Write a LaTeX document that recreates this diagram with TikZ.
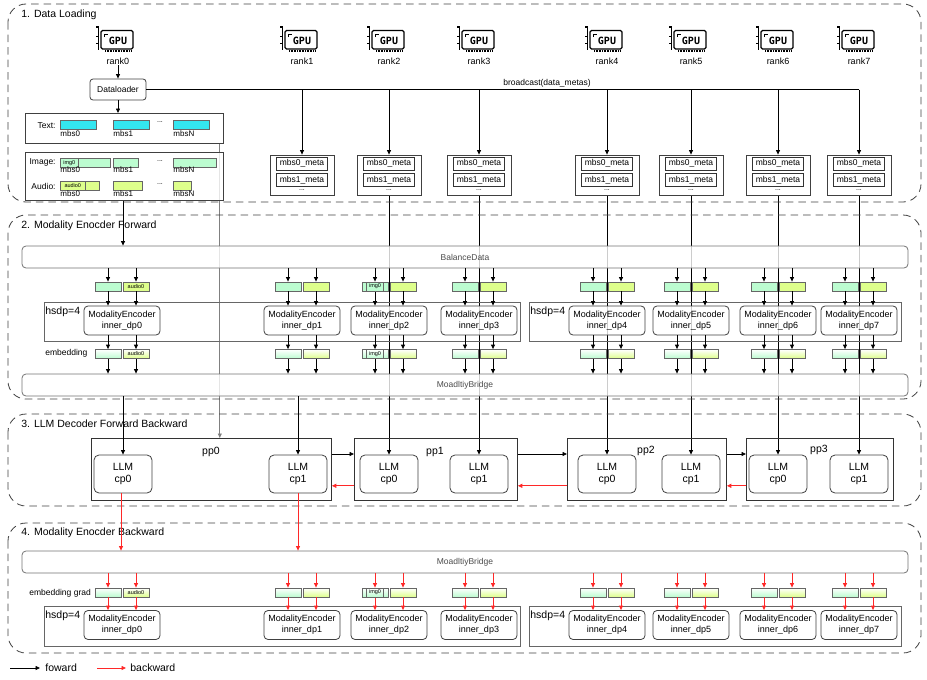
\documentclass[tikz,border=0pt]{standalone}
\usepackage{fontspec}
\setmainfont{Liberation Sans}
\newfontfamily\gpufont{DejaVu Sans Mono}
\usetikzlibrary{arrows.meta,calc,backgrounds}
\definecolor{cyanbar}{RGB}{51,230,240}
\definecolor{greenbar}{RGB}{188,252,208}
\definecolor{yellowbar}{RGB}{222,255,140}
\definecolor{bwdred}{RGB}{255,40,40}
\def\cols{0/122,1/302,2/389,3/479,4/607,5/691,6/778,7/859}

\begin{document}
\begin{tikzpicture}[x=1pt, y=-1pt, line width=0.8pt,
  fwd/.style={-{Triangle[length=4.5pt, width=4pt]}, line width=0.8pt},
  bwd/.style={-{Triangle[length=4.5pt, width=4pt]}, line width=0.8pt, color=bwdred},
  section/.style={draw=black!75, line width=0.8pt, dash pattern=on 7.5pt off 5pt, rounded corners=18pt},
  title/.style={anchor=west, inner sep=0pt, font=\fontsize{10.5}{12}\selectfont},
  hsdp/.style={anchor=west, inner sep=0pt, font=\fontsize{10.5}{12}\selectfont},
  lbl/.style={inner sep=0pt, font=\fontsize{8.5}{10}\selectfont},
  mbslbl/.style={inner sep=0pt, font=\fontsize{8}{9}\selectfont},
  dots/.style={inner sep=0pt, font=\fontsize{7}{8}\selectfont},
  rank/.style={inner sep=0pt, font=\fontsize{9}{10}\selectfont},
  proc/.style={draw=black!75, rounded corners=3pt, fill=white, inner sep=0pt, font=\fontsize{8.5}{10}\selectfont},
  panel/.style={draw=black!75, fill=white, fill opacity=0.8, text opacity=1, inner sep=0pt},
  meta/.style={draw=black!80, fill=white, inner sep=0pt, minimum width=51, minimum height=13, font=\fontsize{8.5}{10}\selectfont},
  bigbar/.style={draw=black!55, rounded corners=4pt, fill=white, fill opacity=0.8, text opacity=1, text=black!70, minimum width=886, minimum height=22, inner sep=0pt, font=\fontsize{8.5}{10}\selectfont},
  group/.style={draw=black!60, inner sep=0pt},
  enc/.style={draw=black!75, rounded corners=4pt, fill=white, fill opacity=0.8, text opacity=1, minimum width=76, minimum height=29, inner sep=0pt, align=center, font=\fontsize{9}{11}\selectfont},
  cbox/.style={draw=black!60, inner sep=0pt, minimum height=9},
  cyanbox/.style={cbox, fill=cyanbar},
  gbox/.style={cbox, fill=greenbar, minimum width=26},
  ybox/.style={cbox, fill=yellowbar, minimum width=26},
  gshade/.style={cbox, minimum width=26, top color=white, bottom color=greenbar},
  yshade/.style={cbox, minimum width=26, top color=white, bottom color=yellowbar},
  tag/.style={draw=black!60, line width=0.6pt, inner sep=0pt, minimum height=9, font=\fontsize{5.5}{6}\selectfont},
  tagtext/.style={inner sep=0pt, font=\fontsize{5.5}{6}\selectfont},
  pp/.style={draw=black!80, inner sep=0pt, minimum height=62},
  pplbl/.style={inner sep=0pt, font=\fontsize{10.5}{12}\selectfont},
  llm/.style={draw=black!75, rounded corners=5pt, fill=white, minimum width=58, minimum height=38, inner sep=0pt, align=center, font=\fontsize{10.5}{12.5}\selectfont},
  gpu/.pic={
    \draw[line width=1.1pt, rounded corners=1.5pt, fill=white] (-14,-9.5) rectangle (18,9);
    \draw[line width=1.4pt] (-19,-13) -- (-16.5,-13) -- (-16.5,10);
    \draw[line width=0.9pt] (-19,-4) -- (-16.5,-4) (-19,3) -- (-16.5,3);
    \draw[line width=0.9pt] (-10.5,-3) -- (-10.5,-6) -- (-7.5,-6);
    \node[inner sep=0pt, font=\gpufont\bfseries\fontsize{10}{10}\selectfont] (-lbl) at (3,0.5) {GPU};
    \draw[line width=2.4pt, dash pattern=on 1pt off 0.6pt] (-10,10.8) -- (17,10.8);
  }]
  \useasboundingbox (0,0) rectangle (927,680);

  % sections
  \draw[section] (8,4) rectangle (921,202);
  \draw[section] (8,215) rectangle (921,399);
  \draw[section] (8,414) rectangle (921,506);
  \draw[section] (8,523) rectangle (921,653);
  \node[title] (s1) at (21,15) {1. Data Loading};
  \node[title] (s2) at (21,226) {2. Modality Enocder Forward};
  \node[title] (s3) at (21,424) {3. LLM Decoder Forward Backward};
  \node[title] (s4) at (21,533) {4. Modality Enocder Backward};

  % ranks
  \foreach \i/\x in {0/118,1/302,2/389,3/479,4/607,5/691,6/778,7/859} {
    \pic (g\i) at (\x-3,40) {gpu};
    \node[rank] (r\i) at (\x,61.5) {rank\i};
  }

  % data loading on rank0
  \node[proc, minimum width=56, minimum height=21] (dl) at (118,89.5) {Dataloader};
  \draw[fwd] (r0) -- (dl);
  \node[panel, minimum width=198, minimum height=30, anchor=north west] (txt) at (25,113) {};
  \node[panel, minimum width=198, minimum height=48, anchor=north west] (iab) at (25,152) {};
  \draw[fwd] (dl) -- (dl |- txt.north);

  \node[lbl, anchor=east] (tl) at (56,126) {Text:};
  \node[cyanbox, minimum width=36, anchor=north west] (t0) at (60,120) {};
  \node[cyanbox, minimum width=36, anchor=north west] (t1) at (113,120) {};
  \node[cyanbox, minimum width=36, anchor=north west] (tN) at (173,120) {};
  \node[mbslbl, anchor=west] (t0n) at (60,134) {mbs0};
  \node[mbslbl, anchor=west] (t1n) at (113,134) {mbs1};
  \node[mbslbl, anchor=west] (tNn) at (173,134) {mbsN};
  \node[dots] (td) at (160,122) {...};

  \node[lbl, anchor=east] (il) at (56,162) {Image:};
  \node[gbox, minimum width=50, anchor=north west] (im0) at (60,158) {};
  \node[tag, minimum width=18, anchor=west] (im0t) at (im0.west) {img0};
  \node[gbox, minimum width=25, anchor=north west] (im1) at (113,158) {};
  \node[gbox, minimum width=43, anchor=north west] (imN) at (173,158) {};
  \node[mbslbl, anchor=west] (im0n) at (60,170) {mbs0};
  \node[mbslbl, anchor=west] (im1n) at (113,170) {mbs1};
  \node[mbslbl, anchor=west] (imNn) at (173,170) {mbsN};
  \node[dots] (imd) at (160,161) {...};

  \node[lbl, anchor=east] (al) at (56,186) {Audio:};
  \node[ybox, minimum width=39, anchor=north west] (au0) at (60,181) {};
  \node[tag, minimum width=25, anchor=west] (au0t) at (au0.west) {audio0};
  \node[ybox, minimum width=29, anchor=north west] (au1) at (113,181) {};
  \node[ybox, minimum width=18, anchor=north west] (auN) at (173,181) {};
  \node[mbslbl, anchor=west] (au0n) at (60,194) {mbs0};
  \node[mbslbl, anchor=west] (au1n) at (113,194) {mbs1};
  \node[mbslbl, anchor=west] (auNn) at (173,194) {mbsN};
  \node[dots] (aud) at (160,184) {...};

  % metas on the other ranks
  \foreach \i/\x in {1/302,2/389,3/479,4/607,5/691,6/778,7/859} {
    \node[panel, minimum width=64, minimum height=40] (m\i) at (\x,175) {};
    \node[meta] (ma\i) at (\x,163.5) {mbs0\_meta};
    \node[meta] (mb\i) at (\x,180) {mbs1\_meta};
    \node[dots] (md\i) at (\x,190) {...};
  }
  \draw (dl.east) -- (dl.east -| m7);
  \node[lbl, anchor=south, inner sep=1pt] (bc) at (547,89) {broadcast(data\_metas)};
  \foreach \i in {1,...,7}
    \draw[fwd] (dl.east -| m\i) -- (m\i.north);

  % encoder forward
  \node[bigbar] (bal) at (465,257) {BalanceData};
  \node[group, minimum width=476, minimum height=39, anchor=north west] (grp1) at (44,302) {};
  \node[group, minimum width=372, minimum height=39, anchor=north west] (grp2) at (529,302) {};
  \node[hsdp] (h1) at (45,312) {hsdp=4};
  \node[hsdp] (h2) at (530,312) {hsdp=4};
  \node[lbl, anchor=west] (emb) at (45,353) {embedding};
  \node[bigbar] (fbr) at (465,385) {MoadltiyBridge};
  \foreach \i/\x in \cols {
    \node[enc] (fe\i) at (\x,320.5) {ModalityEncoder\\inner\_dp\i};
    \node[gbox] (fg\i) at (\x-14,286.5) {};
    \node[ybox] (fy\i) at (\x+14,286.5) {};
    \node[gshade] (eg\i) at (\x-14,354) {};
    \node[yshade] (ey\i) at (\x+14,354) {};
    \foreach \b/\e in {fg\i/eg\i,fy\i/ey\i} {
      \draw[fwd] (\b |- bal.south) -- (\b);
      \draw[fwd] (\b) -- (\b |- fe\i.north);
      \draw[fwd] (\b |- fe\i.south) -- (\e);
      \draw[fwd] (\e) -- (\e |- fbr.north);
    }
  }
  \node[tagtext] (fy0t) at (fy0) {audio0};
  \node[tagtext] (ey0t) at (ey0) {audio0};
  \node[tag, minimum width=17] (fg2t) at (fg2) {img0};
  \node[tag, minimum width=17] (eg2t) at (eg2) {img0};

  % llm decoder
  \node[pp, minimum width=240, anchor=north west] (pp0) at (91,438) {};
  \node[pp, minimum width=163, anchor=north west] (pp1) at (354,438) {};
  \node[pp, minimum width=159, anchor=north west] (pp2) at (567,438) {};
  \node[pp, minimum width=147, anchor=north west] (pp3) at (746,438) {};
  \node[pplbl] (pp0l) at (211,452) {pp0};
  \node[pplbl] (pp1l) at (435,452) {pp1};
  \node[pplbl] (pp2l) at (646,451) {pp2};
  \node[pplbl] (pp3l) at (819,450) {pp3};
  \foreach \i/\x/\k in {0/123/0,1/298/1,2/389/0,3/479/1,4/607/0,5/691/1,6/778/0,7/859/1}
    \node[llm] (l\i) at (\x,474) {LLM\\cp\k};
  \foreach \a/\b in {pp0/pp1,pp1/pp2,pp2/pp3} {
    \draw[fwd] ($(\a.north east)+(0,16)$) -- ($(\b.north west)+(0,16)$);
    \draw[bwd] ($(\b.south west)+(0,-15)$) -- ($(\a.south east)+(0,-15)$);
  }
  \draw[fwd] (l0 |- fbr.south) -- (l0);
  \draw[fwd] (l1 |- fbr.south) -- (l1);

  % encoder backward
  \node[bigbar] (bbr) at (465,562) {MoadltiyBridge};
  \node[group, minimum width=476, minimum height=40, anchor=north west] (grp3) at (44,606) {};
  \node[group, minimum width=372, minimum height=40, anchor=north west] (grp4) at (529,606) {};
  \node[hsdp] (h3) at (45,616) {hsdp=4};
  \node[hsdp] (h4) at (530,616) {hsdp=4};
  \node[lbl, anchor=west] (embg) at (29,593) {embedding grad};
  \foreach \i/\x in \cols {
    \node[enc] (be\i) at (\x,625) {ModalityEncoder\\inner\_dp\i};
    \node[gshade] (bg\i) at (\x-14,592.5) {};
    \node[yshade] (by\i) at (\x+14,592.5) {};
    \foreach \b in {bg\i,by\i} {
      \draw[bwd] (\b |- bbr.south) -- (\b);
      \draw[bwd] (\b) -- (\b |- be\i.north);
    }
  }
  \node[tagtext] (by0t) at (by0) {audio0};
  \node[tag, minimum width=17] (bg2t) at (bg2) {img0};
  \draw[bwd] ([xshift=-2pt]l0.south) -- ([xshift=-2pt]l0.south |- bbr.north);
  \draw[bwd] (l1.south) -- (l1.south |- bbr.north);

  % legend
  \coordinate (lg1) at (10,668);
  \coordinate (lg2) at (40,668);
  \coordinate (lg3) at (97,668);
  \coordinate (lg4) at (126,668);
  \draw[fwd] (lg1) -- (lg2);
  \node[title] (lgf) at (45,668) {foward};
  \draw[bwd] (lg3) -- (lg4);
  \node[title] (lgb) at (130,668) {backward};

  % lines running behind the boxes
  \begin{scope}[on background layer]
    \draw[fwd, black!50] ([xshift=-4pt]txt.south east) -- ([xshift=-4pt]txt.south east |- pp0.north);
    \draw[fwd] (iab.south -| l0) -- (bal.north -| l0);
    \foreach \i in {2,...,7}
      \draw[fwd] (m\i.south) -- (l\i.north);
  \end{scope}
\end{tikzpicture}
\end{document}
